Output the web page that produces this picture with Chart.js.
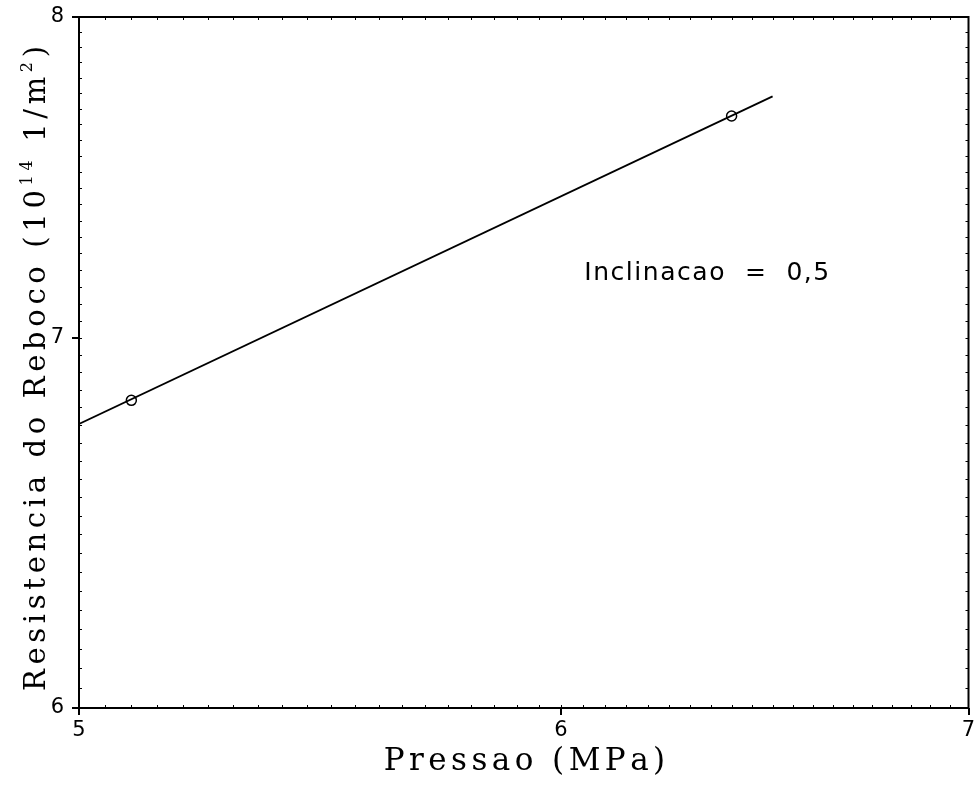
<!DOCTYPE html>
<html>
<head>
<meta charset="utf-8">
<script src="https://cdn.jsdelivr.net/npm/chart.js@4/dist/chart.umd.min.js"></script>
<style>
  html, body { margin: 0; padding: 0; background: #fff; }
  #wrap { width: 975px; height: 785px; }
</style>
</head>
<body>
<div id="wrap"><canvas id="resChart" width="975" height="785"></canvas></div>
<script>
// measured points (log-log)
const pressao = [5.1, 6.4]
const resistencia = [6.82, 7.677]
// fitted line, slope ~0.5 in log-log
const fitX = [5.0, 6.5]
const fitY = [6.753, 7.74]
const xTicks = [5, 6, 7]
const yTicks = [6, 7, 8]
const noteText = 'Inclinacao  =  0,5'
const notePos = { x: 6.053, y: 7.19 }

const initChart = () => {
  const ctx = document.getElementById('resChart').getContext('2d')

  // draw text with superscript parts, spread to a given length
  const drawRich = (c, parts, font, supFont, target, centered) => {
    let w = 0
    parts.forEach(p => {
      c.font = p.sup ? supFont : font
      w += c.measureText(p.t).width
    })
    const n = parts.reduce((a, p) => a + p.t.length, 0)
    const sp = (target - w) / Math.max(n - 1, 1)
    let x = centered ? -target / 2 : 0
    parts.forEach(p => {
      c.font = p.sup ? supFont : font
      for (const ch of p.t) {
        c.fillText(ch, x, p.sup ? -13 : 0)
        x += c.measureText(ch).width + sp
      }
    })
  }

  let frame_plugin = {
    id: 'frame',
    afterDraw(chart) {
      const c = chart.ctx
      const a = chart.chartArea
      const xs = chart.scales.x
      const ys = chart.scales.y
      c.save()
      c.strokeStyle = '#000'
      c.lineWidth = 2
      c.strokeRect(a.left, a.top, a.right - a.left, a.bottom - a.top)

      // minor ticks, inside the frame
      c.lineWidth = 1
      c.beginPath()
      for (let v = xTicks[0]; v < xTicks[xTicks.length - 1]; v += 0.05) {
        const px = Math.round(xs.getPixelForValue(v)) + 0.5
        c.moveTo(px, a.bottom); c.lineTo(px, a.bottom - 3)
        c.moveTo(px, a.top); c.lineTo(px, a.top + 3)
      }
      for (let v = yTicks[0]; v < yTicks[yTicks.length - 1]; v += 0.05) {
        const py = Math.round(ys.getPixelForValue(v)) + 0.5
        c.moveTo(a.left, py); c.lineTo(a.left + 3, py)
        c.moveTo(a.right, py); c.lineTo(a.right - 3, py)
      }
      c.stroke()

      // annotation
      c.fillStyle = '#000'
      c.textAlign = 'left'
      c.textBaseline = 'middle'
      c.save()
      c.translate(xs.getPixelForValue(notePos.x), ys.getPixelForValue(notePos.y))
      drawRich(c, [{ t: noteText }], '25px "DejaVu Sans"', '14px "DejaVu Sans"', 245, false)
      c.restore()

      // axis titles
      c.textBaseline = 'alphabetic'
      c.save()
      c.translate((a.left + a.right) / 2, 770)
      drawRich(c, [{ t: 'Pressao (MPa)' }], '31px "DejaVu Serif"', '18px "DejaVu Serif"', 280, true)
      c.restore()

      c.save()
      c.translate(45, (a.top + a.bottom) / 2 + 6)
      c.rotate(-Math.PI / 2)
      drawRich(c, [
        { t: 'Resistencia do Reboco (10' },
        { t: '14', sup: true },
        { t: ' 1/m' },
        { t: '2', sup: true },
        { t: ')' }
      ], '29px "DejaVu Serif"', '16px "DejaVu Serif"', 645, true)
      c.restore()
      c.restore()
    }
  }

  let scales_chart = {
    x: {
      type: 'logarithmic',
      min: xTicks[0],
      max: xTicks[xTicks.length - 1],
      afterBuildTicks: s => { s.ticks = xTicks.map(v => ({ value: v })) },
      afterFit: s => { s.height = 77; s.paddingLeft = 0; s.paddingRight = 0 },
      grid: {
        drawOnChartArea: false,
        tickLength: 7,
        color: '#000',
        lineWidth: 2
      },
      border: { display: false },
      ticks: {
        color: '#000',
        padding: 3,
        maxRotation: 0,
        font: { family: 'DejaVu Sans', size: 21 },
        callback: v => String(v)
      }
    },
    y: {
      type: 'logarithmic',
      min: yTicks[0],
      max: yTicks[yTicks.length - 1],
      afterBuildTicks: s => { s.ticks = yTicks.map(v => ({ value: v })) },
      afterFit: s => { s.width = 79; s.paddingTop = 0; s.paddingBottom = 0 },
      grid: {
        drawOnChartArea: false,
        tickLength: 7,
        color: '#000',
        lineWidth: 2
      },
      border: { display: false },
      ticks: {
        color: '#000',
        padding: 8,
        font: { family: 'DejaVu Sans', size: 21 },
        callback: v => String(v)
      }
    }
  }

  chart = new Chart(ctx, {
    type: 'line',
    data: {
      datasets: [
        {
          label: 'ajuste',
          data: fitX.map((x, i) => ({ x, y: fitY[i] })),
          borderColor: '#000',
          borderWidth: 1.8,
          pointRadius: 0,
          fill: false
        },
        {
          type: 'scatter',
          label: 'medido',
          data: pressao.map((x, i) => ({ x, y: resistencia[i] })),
          borderColor: '#000',
          backgroundColor: 'rgba(0,0,0,0)',
          borderWidth: 1.5,
          pointRadius: 5,
          pointStyle: 'circle'
        }
      ]
    },
    options: {
      responsive: false,
      animation: false,
      layout: { padding: { top: 17, right: 6, left: 0, bottom: 0 } },
      plugins: {
        legend: { display: false },
        title: { display: false },
        tooltip: { enabled: false }
      },
      scales: scales_chart
    },
    plugins: [frame_plugin]
  })
}

let chart
initChart()
</script>
</body>
</html>
